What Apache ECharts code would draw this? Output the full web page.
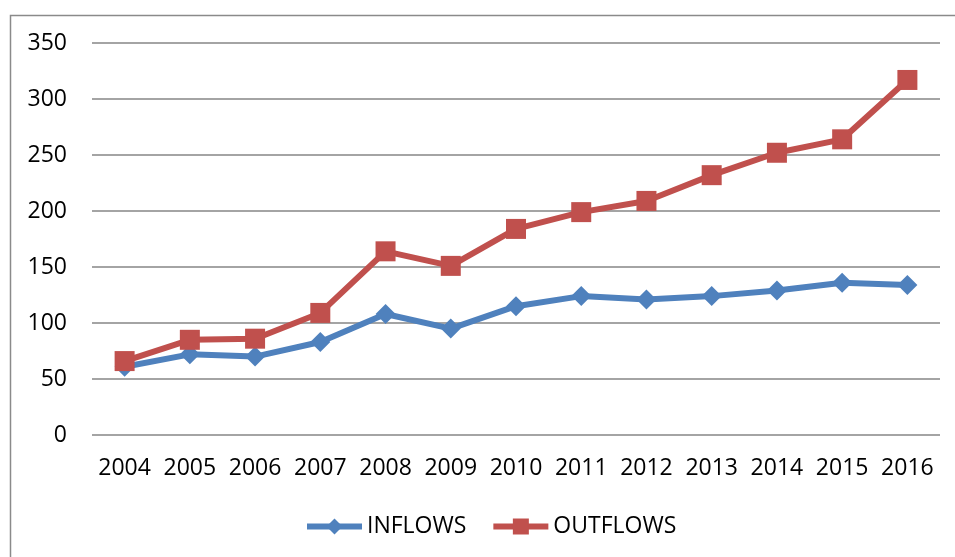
<!DOCTYPE html>
<html>
<head>
<meta charset="utf-8">
<script src="https://cdn.jsdelivr.net/npm/echarts@6/dist/echarts.min.js"></script>
<style>
  html, body { margin: 0; padding: 0; background: #fff; }
  #chart { width: 955px; height: 557px; }
</style>
</head>
<body>
<div id="chart"></div>
<script>
const years = ["2004", "2005", "2006", "2007", "2008", "2009", "2010",
  "2011", "2012", "2013", "2014", "2015", "2016"];
const inflows = [61, 72, 70, 83, 108, 95, 115, 124, 121, 124, 129, 136, 134];
const outflows = [66, 85, 86, 109, 164, 151, 184, 199, 209, 232, 252, 264, 317];

const font = "'Open Sans', 'Liberation Sans', sans-serif";

const chart = echarts.init(document.getElementById("chart"));
chart.setOption({
  animation: false,
  textStyle: { fontFamily: font },
  graphic: [{
    type: "rect",
    left: 8, top: 13,
    shape: { width: 1000, height: 600 },
    style: { fill: "none", stroke: "#8a8a8a", lineWidth: 1.5 },
    silent: true,
  }],
  grid: { left: 92, right: 15, top: 43, bottom: 122 },
  xAxis: {
    type: "category",
    data: years,
    boundaryGap: true,
    axisLine: { show: false },
    axisTick: { show: false },
    axisLabel: { interval: 0, color: "#000", fontSize: 23, fontFamily: font, margin: 22 },
  },
  yAxis: {
    type: "value",
    min: 0, max: 350, interval: 50,
    axisLine: { show: false },
    axisTick: { show: false },
    axisLabel: { color: "#000", fontSize: 23, fontFamily: font, margin: 25 },
    splitLine: { lineStyle: { color: "#868686", width: 1.5 } },
  },
  legend: {
    bottom: 14,
    left: 299,
    itemWidth: 55,
    itemHeight: 20,
    itemGap: 24,
    lineStyle: { width: 6 },
    textStyle: { color: "#000", fontSize: 23, fontFamily: font },
    data: ["INFLOWS", "OUTFLOWS"],
  },
  series: [
    {
      name: "INFLOWS",
      type: "line",
      data: inflows,
      symbol: "diamond",
      symbolSize: 20,
      lineStyle: { color: "#4F81BD", width: 6 },
      itemStyle: { color: "#4F81BD" },
    },
    {
      name: "OUTFLOWS",
      type: "line",
      data: outflows,
      symbol: "rect",
      symbolSize: 20,
      lineStyle: { color: "#C0504D", width: 6 },
      itemStyle: { color: "#C0504D" },
    },
  ],
});
</script>
</body>
</html>
